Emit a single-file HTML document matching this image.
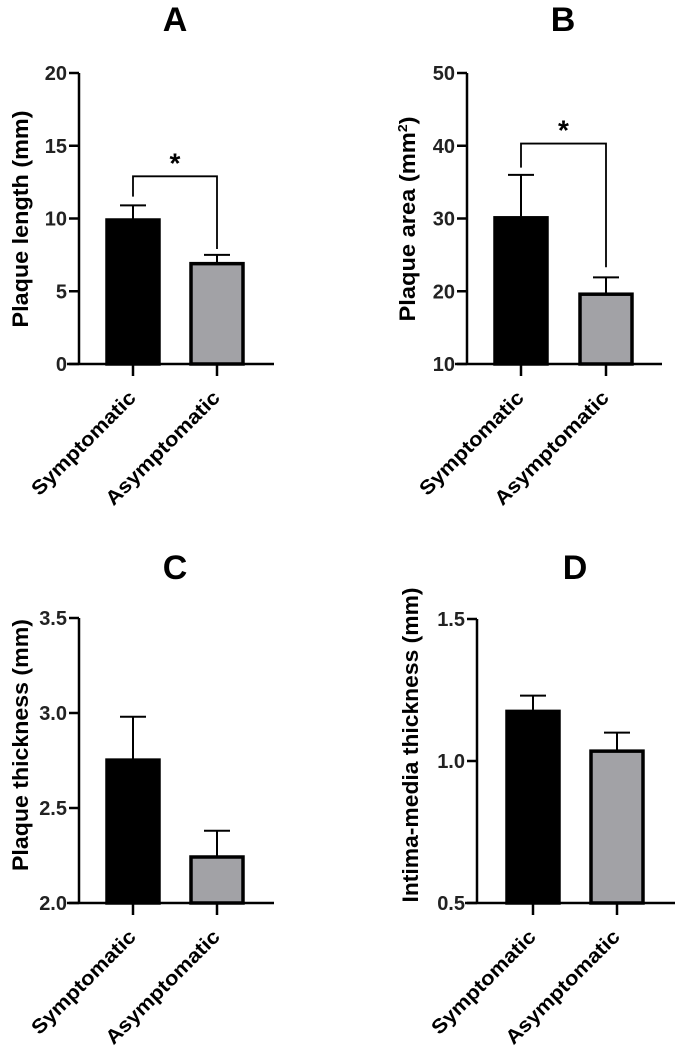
<!DOCTYPE html>
<html><head><meta charset="utf-8"><style>
html,body{margin:0;padding:0;background:#fff;}
svg{display:block;font-family:"Liberation Sans",Arial,sans-serif;font-weight:bold;}
</style></head><body>
<svg id="fig" width="675" height="1052" viewBox="0 0 675 1052" xmlns="http://www.w3.org/2000/svg"></svg>
<script>
const categories = ["Symptomatic", "Asymptomatic"];
const valuesA = [10.0, 7.0];
const errorsA = [0.9, 0.5];
const valuesB = [30.3, 19.8];
const errorsB = [5.7, 2.1];
const valuesC = [2.76, 2.25];
const errorsC = [0.22, 0.13];
const valuesD = [1.18, 1.04];
const errorsD = [0.05, 0.06];
const ticksA = ["0","5","10","15","20"];
const ticksB = ["10","20","30","40","50"];
const ticksC = ["2.0","2.5","3.0","3.5"];
const ticksD = ["0.5","1.0","1.5"];

const NS = "http://www.w3.org/2000/svg";
const svg = document.getElementById("fig");
function mk(tag, attrs, parent){
  const e = document.createElementNS(NS, tag);
  for (const k in attrs) e.setAttribute(k, attrs[k]);
  (parent||svg).appendChild(e);
  return e;
}
const fills = ["#000000", "#a2a2a6"];

function panel(p){
  const g = mk("g", {});
  
  
  const tmin = parseFloat(p.ticks[0]), tmax = parseFloat(p.ticks[p.ticks.length-1]);
  const y = v => p.bottom - (v - tmin) / (tmax - tmin) * (p.bottom - p.top);
  const t = mk("text", {x:p.titleX, y:p.titleY, "font-size":34, "text-anchor":"middle"}, g);
  t.textContent = p.letter;
  
  
  p.values.forEach((v, i) => {
    const cx = p.centers[i];
    const err = mk("line", {x1:cx, x2:cx, y1:y(v), y2:y(v + p.errors[i]), stroke:"#000", "stroke-width":2}, g);
    
    
    const cap = mk("line", {x1:cx-13, x2:cx+13, y1:y(v + p.errors[i]), y2:y(v + p.errors[i]), stroke:"#000", "stroke-width":2}, g);
    
    
    const r = mk("rect", {x:cx-26, y:y(v)+1.5, width:52, height:p.bottom - y(v) - 1.5, fill:fills[i], stroke:"#000", "stroke-width":3.5}, g);
    
    
    const tk = mk("line", {x1:cx, x2:cx, y1:p.bottom, y2:p.bottom+12, stroke:"#000", "stroke-width":2.5}, g);
    
    
    const lx = cx + 4, ly = p.bottom + 35;
    const lb = mk("text", {x:lx, y:ly, "font-size":20, "text-anchor":"end", transform:"rotate(-45 "+lx+" "+ly+")", textLength: i===0?138:152, lengthAdjust:"spacingAndGlyphs"}, g);
    lb.textContent = categories[i];
    
    
  });
  const ya = mk("line", {x1:p.axisX, x2:p.axisX, y1:p.top, y2:p.bottom+1, stroke:"#000", "stroke-width":2.5}, g);
  
  
  const xa = mk("line", {x1:p.axisX-12, x2:p.axisEnd, y1:p.bottom, y2:p.bottom, stroke:"#000", "stroke-width":2.5}, g);
  
  
  p.ticks.forEach(tl => {
    const ty = y(parseFloat(tl));
    const tk = mk("line", {x1:p.axisX-10, x2:p.axisX, y1:ty, y2:ty, stroke:"#000", "stroke-width":2.5}, g);
    
    
    const tt = mk("text", {x:p.axisX-12, y:ty+7, "font-size":20, "text-anchor":"end", fill:"#222"}, g);
    tt.textContent = tl;
    
    
  });
  const cy = p.titleCY;
  const yt = mk("text", {x:p.yTitleX, y:cy, "font-size":22, "text-anchor":"middle", transform:"rotate(-90 "+p.yTitleX+" "+cy+")", textLength:p.yTitleLen, lengthAdjust:"spacingAndGlyphs"}, g);
  yt.innerHTML = p.yTitle;
  
  
  if (p.bracket){
    const b = p.bracket;
    const x1 = p.centers[0], x2 = p.centers[1];
    const pl = mk("polyline", {points:`${x1},${y(b.left)} ${x1},${y(b.level)} ${x2},${y(b.level)} ${x2},${y(b.right)}`, fill:"none", stroke:"#000", "stroke-width":1.8}, g);
    
    
    const st = mk("text", {x:(x1+x2)/2, y:y(b.level)-4, "font-size":28, "text-anchor":"middle"}, g);
    st.textContent = "*";
    
    
  }
}

panel({letter:"A", titleX:175, titleY:31, axisX:79, axisEnd:274, top:73, bottom:364, centers:[133,217],
  values:valuesA, errors:errorsA, ticks:ticksA, yTitle:"Plaque length (mm)", yTitleX:28, titleCY:219, yTitleLen:217,
  bracket:{level:12.9, left:11.5, right:7.9}});
panel({letter:"B", titleX:563, titleY:31, axisX:467, axisEnd:662, top:73, bottom:364, centers:[521,606],
  values:valuesB, errors:errorsB, ticks:ticksB, yTitle:"Plaque area (mm<tspan dy='-8' font-size='13'>2</tspan><tspan dy='8'>)</tspan>", yTitleX:415, titleCY:219, yTitleLen:205,
  bracket:{level:40.3, left:37, right:23.3}});
panel({letter:"C", titleX:175, titleY:579, axisX:79, axisEnd:274, top:618, bottom:903, centers:[133,217],
  values:valuesC, errors:errorsC, ticks:ticksC, yTitle:"Plaque thickness (mm)", yTitleX:28, titleCY:745, yTitleLen:252});
panel({letter:"D", titleX:575, titleY:579, axisX:477, axisEnd:675, top:619, bottom:903, centers:[533,617],
  values:valuesD, errors:errorsD, ticks:ticksD, yTitle:"Intima-media thickness (mm)", yTitleX:418, titleCY:745, yTitleLen:315});
</script>
</body></html>
